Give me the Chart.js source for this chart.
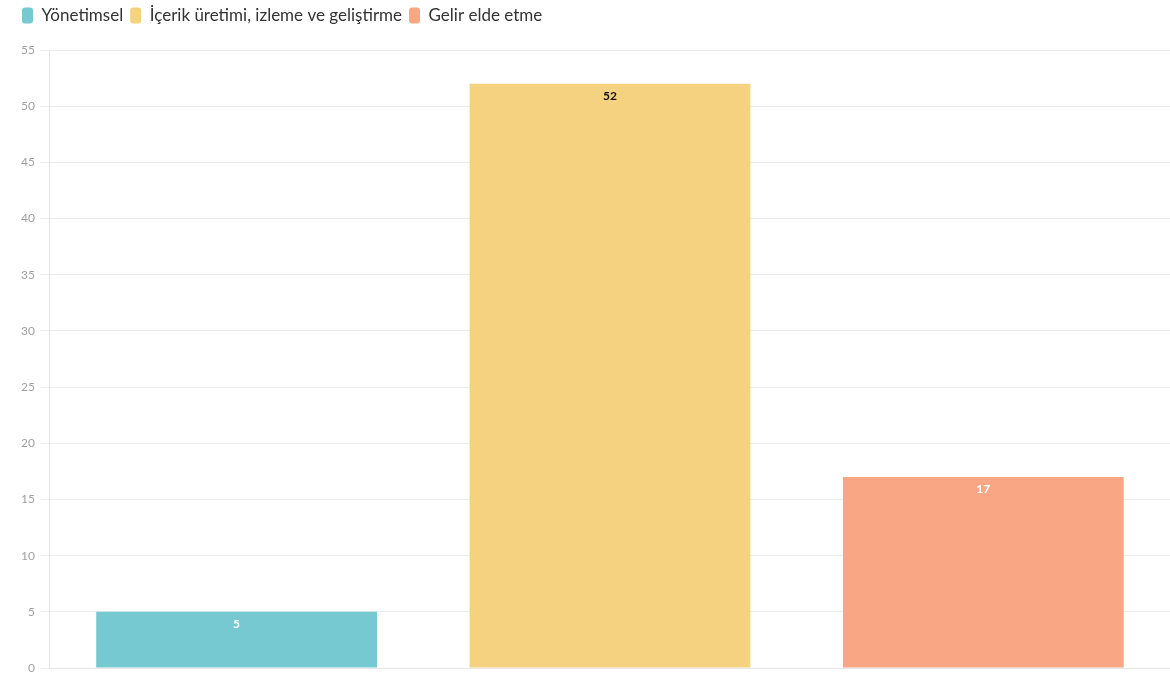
<!DOCTYPE html>
<html>
<head>
<meta charset="utf-8">
<script src="https://cdn.jsdelivr.net/npm/chart.js@4"></script>
<style>
  html, body { margin: 0; padding: 0; background: #fff; }
  #wrap { width: 1170px; height: 675px; }
</style>
</head>
<body>
<div id="wrap"><canvas id="barChart"></canvas></div>
<script>
/*---- data ----*/
var categories = ["Yönetimsel", "İçerik üretimi, izleme ve geliştirme", "Gelir elde etme"];
var values = [5, 52, 17];
var colors = ["#76c9d0", "#f4d27f", "#f8a683"];
var labelColors = ["#ffffff", "#111111", "#ffffff"];
var yTicks = [0, 5, 10, 15, 20, 25, 30, 35, 40, 45, 50, 55];

Chart.defaults.font.family = "Lato, 'Open Sans', sans-serif";

// one dataset per category, other slots null so each bar sits alone
var datasets = categories.map(function (name, i) {
    return {
        label: name,
        data: values.map(function (v, j) { return j === i ? v : null; }),
        backgroundColor: colors[i],
        borderWidth: 0
    };
});

/*---- value labels inside the bars ----*/
var valueLabels = {
    id: 'valueLabels',
    afterDatasetsDraw: function (chart) {
        var ctx = chart.ctx;
        ctx.save();
        ctx.font = "bold 12px Lato, sans-serif";
        ctx.textAlign = 'center';
        ctx.textBaseline = 'middle';
        chart.data.datasets.forEach(function (ds, i) {
            var meta = chart.getDatasetMeta(i);
            meta.data.forEach(function (bar, j) {
                if (ds.data[j] == null) return;
                ctx.fillStyle = labelColors[i];
                ctx.fillText(ds.data[j], bar.x, bar.y + 12);
            });
        });
        ctx.restore();
    }
};

/*---- extra room under the legend ----*/
var legendMargin = {
    id: 'legendMargin',
    beforeInit: function (chart) {
        var fit = chart.legend.fit;
        chart.legend.fit = function () {
            fit.bind(chart.legend)();
            this.height += 16;
        };
    }
};

var ctx = document.getElementById('barChart').getContext('2d');
var barChart = new Chart(ctx, {
    type: 'bar',
    data: {
        labels: categories,
        datasets: datasets
    },
    options: {
        responsive: true,
        maintainAspectRatio: false,
        animation: false,
        skipNull: true,
        categoryPercentage: 0.8,
        barPercentage: 0.94,
        layout: { padding: { left: 15, right: -6, top: 0, bottom: 7 } },
        plugins: {
            legend: {
                align: 'start',
                labels: {
                    boxWidth: 11,
                    boxHeight: 16,
                    useBorderRadius: true,
                    borderRadius: 3,
                    padding: 7,
                    color: '#333',
                    font: { size: 17 }
                }
            },
            tooltip: { enabled: false }
        },
        scales: {
            x: {
                grid: { display: false },
                border: { color: '#e6e6e6' },
                ticks: { display: false },
                afterFit: function (axis) { axis.height = 0; }
            },
            y: {
                min: 0,
                max: 55,
                afterBuildTicks: function (axis) {
                    axis.ticks = yTicks.map(function (v) { return { value: v }; });
                },
                afterFit: function (axis) { axis.paddingBottom = 0; },
                grid: { color: '#ececec', tickLength: 9 },
                border: { color: '#e6e6e6' },
                ticks: { color: '#a0a0a0', font: { size: 12 }, padding: 6 }
            }
        }
    },
    plugins: [valueLabels, legendMargin]
});
</script>
</body>
</html>
